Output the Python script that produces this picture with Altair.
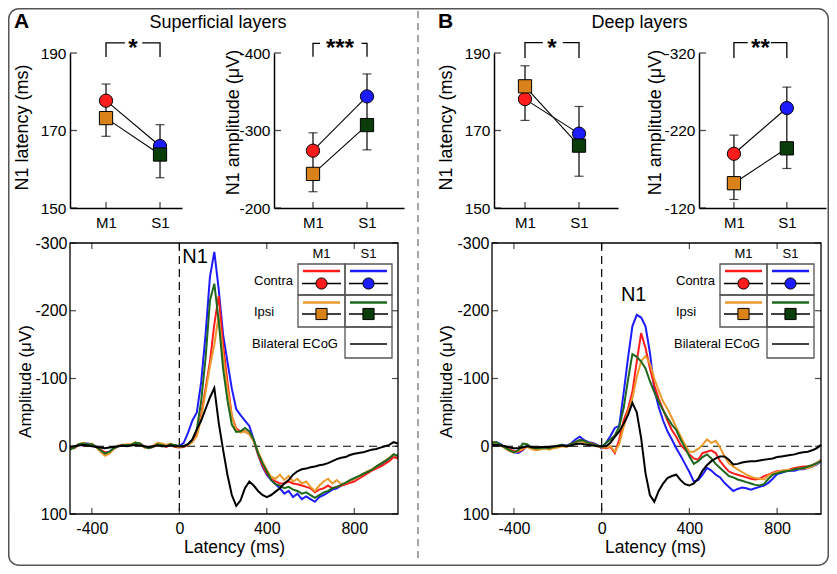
import altair as alt
import pandas as pd

FONT = "Liberation Sans"
VW, VH = 821, 558   # whole view (screen offset 8px)

# ---------------- data ----------------
XPOS = [1, 2]                      # M1, S1

A_LAT_CONTRA = [177.7, 166.0]
A_LAT_IPSI = [173.2, 163.8]
A_LAT_ERR_LO = [168.5, 157.8]
A_LAT_ERR_HI = [182.0, 171.5]

A_AMP_CONTRA = [-274, -344]
A_AMP_IPSI = [-244, -307]
A_AMP_ERR_LO = [-221, -275]
A_AMP_ERR_HI = [-297, -373]

B_LAT_CONTRA = [178.1, 169.2]
B_LAT_IPSI = [181.4, 166.1]
B_LAT_ERR_LO = [172.6, 158.2]
B_LAT_ERR_HI = [186.7, 176.2]

B_AMP_CONTRA = [-190, -249]
B_AMP_IPSI = [-152, -197]
B_AMP_ERR_LO = [-131, -171]
B_AMP_ERR_HI = [-214, -276]

LAT_TICKS = [150, 170, 190]
A_AMP_TICKS = [-400, -300, -200]
B_AMP_TICKS = [-320, -220, -120]
WAVE_X_TICKS = [-400, 0, 400, 800]
WAVE_Y_TICKS = [-300, -200, -100, 0, 100]

# significance brackets: (top, tick end) in data units
A_LAT_BRACKET = [192.6, 189.0]
A_AMP_BRACKET = [-412.5, -395.2]
B_LAT_BRACKET = [192.7, 188.7]
B_AMP_BRACKET = [-333.3, -313.5]

T = list(range(-500, 1001, 20))

A_S1_CONTRA = [3, 2, -3, -4, -4, -3, 0, 6, 10, 8, 3, 0, -2, -1, -2, -5, -3, 1, 3, 0, -4, -2, 0, -3, -1, 0,
               -5, -20, -38, -50, -95, -165, -250, -287, -232, -165,
               -125, -85, -55, -46, -38, -30, -10, 12, 30, 42,
               50, 56, 62, 70, 66, 75, 70, 78, 74, 78,
               82, 75, 72, 68, 64, 62, 58, 55, 51, 48,
               45, 41, 38, 35, 31, 28, 24, 18, 12, 16]
A_M1_CONTRA = [2, 3, -2, -4, -3, -2, 1, 5, 9, 9, 4, 0, -1, -2, -2, -4, -4, 0, 2, 1, -3, -3, 1, -2, 1, 2,
               1, -2, -8, -18, -47, -85, -125, -180, -222, -150,
               -95, -45, -26, -22, -22, -18, -8, 12, 28, 40,
               48, 52, 55, 55, 52, 55, 56, 58, 60, 62,
               68, 64, 62, 58, 62, 60, 58, 56, 54, 52,
               48, 44, 40, 36, 33, 30, 26, 22, 16, 18]
A_M1_IPSI = [4, 2, -3, -5, -3, -4, 2, 8, 14, 11, 4, -1, -2, -3, -3, -6, -2, 2, 3, -1, -5, -4, -2, -4, 0, 1,
             0, -2, -6, -15, -42, -80, -118, -150, -193, -135,
             -85, -45, -24, -20, -22, -18, -8, 8, 22, 35,
             45, 48, 42, 50, 44, 52, 48, 55, 52, 60,
             66, 58, 52, 48, 55, 50, 56, 54, 51, 48,
             45, 41, 37, 34, 30, 26, 22, 17, 12, 15]
A_S1_IPSI = [5, 2, -3, -4, -3, -3, 1, 6, 11, 8, 3, 0, -1, -2, -2, -5, -4, 1, 3, 1, -3, -2, 0, -3, -2, 0,
             0, -3, -10, -25, -67, -130, -215, -240, -185, -115,
             -68, -32, -21, -22, -27, -22, -10, 10, 25, 37,
             50, 56, 58, 62, 60, 64, 66, 70, 68, 72,
             76, 72, 68, 66, 62, 60, 57, 54, 50, 47,
             44, 41, 38, 35, 30, 26, 22, 18, 12, 14]
A_ECOG = [1, 0, -1, -2, -1, 0, 1, 2, 3, 2, 1, 0, -1, 0, -1, -2, -1, 0, 1, 0, -1, 0, 0, -1, 0, 0,
          0, -3, -10, -25, -38, -55, -72, -86, -35, 5,
          42, 72, 88, 80, 62, 52, 58, 66, 72, 75,
          72, 67, 62, 55, 50, 42, 37, 34, 33, 31,
          30, 28, 27, 25, 22, 19, 17, 16, 13, 11,
          10, 9, 7, 5, 4, 2, 0, -2, -6, -4]

B_S1_CONTRA = [-5, -6, -3, 2, 6, 9, 10, 6, -1, 3, 5, 4, 3, 4, 2, 0, -2, -1, -4, -10, -14, -9, -6, -5, -2, 3,
               -5, -15, -27, -30, -78, -130, -177, -194, -190, -177,
               -138, -84, -58, -38, -22, -10, 3, 14, 26, 38,
               52, 50, 42, 32, 36, 42, 46, 54, 60, 66,
               63, 61, 62, 64, 62, 60, 58, 54, 48, 41,
               39, 37, 36, 36, 34, 34, 32, 30, 27, 22]
B_M1_CONTRA = [-6, -5, -2, 1, 5, 7, 8, 5, 0, 2, 4, 4, 2, 3, 2, 1, -1, 0, -3, -6, -9, -7, -5, -4, -1, 2,
               3, 1, 10, -10, -38, -55, -80, -125, -167, -145,
               -115, -90, -70, -54, -38, -24, -14, -2, 5, 12,
               18, 20, 10, 8, 6, 10, 22, 30, 37, 40,
               42, 44, 46, 48, 49, 48, 44, 42, 39, 37,
               36, 36, 34, 32, 31, 30, 30, 28, 25, 20]
B_M1_IPSI = [-7, -4, -1, 3, 7, 9, 7, 4, 1, 4, 6, 5, 3, 5, 3, 2, 0, 1, -2, -5, -8, -6, -4, -3, 0, 2,
             2, 0, 8, -3, -28, -50, -71, -102, -126, -133,
             -122, -100, -82, -66, -55, -42, -28, -15, -2, 8,
             8, 4, -2, -10, -5, -8, 2, 15, 25, 30,
             34, 38, 42, 45, 47, 48, 49, 43, 40, 38,
             36, 35, 35, 34, 33, 33, 32, 30, 26, 20]
B_S1_IPSI = [-5, -6, -2, 2, 6, 9, 6, -4, -3, 2, 3, 3, 2, 3, 1, -1, -2, 0, -3, -6, -9, -8, -5, -3, -1, 1,
             -5, -10, -16, -29, -56, -98, -136, -132, -125, -115,
             -96, -80, -66, -53, -42, -32, -24, -10, 2, 15,
             26, 22, 16, 12, 18, 26, 32, 38, 44, 46,
             49, 51, 53, 55, 57, 58, 56, 48, 42, 40,
             38, 37, 36, 34, 33, 32, 30, 28, 25, 22]
B_ECOG = [-2, -2, -1, 0, 2, 3, 3, 2, 0, 1, 2, 1, 1, 1, 0, 0, -1, 0, -1, -3, -4, -3, -2, -1, 0, 0,
          0, -5, -14, -22, -33, -46, -64, -50, -12, 40,
          72, 82, 66, 55, 47, 44, 42, 50, 56, 58,
          55, 48, 36, 28, 22, 18, 15, 15, 20, 27,
          26, 24, 23, 22, 22, 21, 20, 19, 18, 16,
          15, 14, 13, 12, 10, 9, 8, 6, 3, -2]

RED = "#ff1c1c"
BLUE = "#1c1cff"
ORANGE_LINE = "#ec9a2c"
ORANGE_FILL = "#d9821a"
GREEN_LINE = "#1d681d"
GREEN_FILL = "#0b3d0b"

ONE = pd.DataFrame({"a": [0]})


def txt(text, x, y, size, weight="normal", align="center", baseline="alphabetic"):
    return alt.Chart(ONE).mark_text(text=text, font=FONT, fontSize=size, fontWeight=weight,
                                    align=align, baseline=baseline, color="black").encode(
        x=alt.value(x), y=alt.value(y))


def make_small(g, contra, ipsi, lo, hi, ydom, yrev, yticks, xdom, ytitle, tx, ty,
               bracket, gap, stars):
    x0, x1, y0, y1 = g
    xs = alt.Scale(domain=xdom, range=[x0, x1], nice=False, zero=False)
    ys = alt.Scale(domain=ydom, range=([y0, y1] if yrev else [y1, y0]), nice=False, zero=False)
    xax = alt.Axis(orient="bottom", offset=-(VH - y1), values=XPOS,
                   labelExpr="datum.value == 1 ? 'M1' : 'S1'", title=None,
                   domain=True, ticks=False, grid=False, labelPadding=7, labelFontSize=15)
    yax = alt.Axis(orient="left", offset=-x0, values=yticks, labelExpr="'' + datum.value",
                   title=ytitle, domain=True, ticks=False, grid=False, labelPadding=4,
                   labelFontSize=15.5, titleFontSize=18, titleX=tx, titleY=ty,
                   titleBaseline="middle", titleAngle=-90, titleAlign="center")

    def X(f="x"):
        return alt.X(f"{f}:Q", scale=xs, axis=xax)

    def Y(f="y"):
        return alt.Y(f"{f}:Q", scale=ys, axis=yax)

    err = pd.DataFrame({"x": XPOS, "y": lo, "y2": hi})
    err_rule = alt.Chart(err).mark_rule(color="black", strokeWidth=1.2).encode(x=X(), y=Y(), y2="y2:Q")
    caps = pd.DataFrame({"x": XPOS + XPOS, "y": lo + hi})
    cap_mark = alt.Chart(caps).mark_tick(orient="horizontal", size=9, thickness=1.2,
                                         color="black").encode(x=X(), y=Y())
    conn = pd.DataFrame({"x": XPOS * 2, "y": contra + ipsi, "g": ["c", "c", "i", "i"]})
    lines = alt.Chart(conn).mark_line(color="black", strokeWidth=1.1).encode(x=X(), y=Y(), detail="g:N")
    circ = pd.DataFrame({"x": XPOS, "y": contra, "c": [RED, BLUE]})
    circles = alt.Chart(circ).mark_point(shape="circle", filled=True, size=175, stroke="black",
                                         strokeWidth=1, opacity=1).encode(
        x=X(), y=Y(), fill=alt.Fill("c:N", scale=None))
    sq = pd.DataFrame({"x": XPOS, "y": ipsi, "c": [ORANGE_FILL, GREEN_FILL]})
    squares = alt.Chart(sq).mark_point(shape="square", filled=True, size=175, stroke="black",
                                       strokeWidth=1, opacity=1).encode(
        x=X(), y=Y(), fill=alt.Fill("c:N", scale=None))
    ytk = alt.Chart(pd.DataFrame({"y": yticks})).mark_tick(
        orient="horizontal", size=7, thickness=1.3, color="black").encode(y=Y(), x=alt.value(x0 + 3.5))
    xtk = alt.Chart(pd.DataFrame({"x": XPOS})).mark_tick(
        orient="vertical", size=6, thickness=1.3, color="black").encode(x=X(), y=alt.value(y1 - 3))
    br = pd.DataFrame({"x": [1, 1, gap[0], gap[1], 2, 2],
                       "y": [bracket[1], bracket[0], bracket[0], bracket[0], bracket[0], bracket[1]],
                       "seg": [0, 0, 0, 1, 1, 1], "o": [0, 1, 2, 0, 1, 2]})
    brk = alt.Chart(br).mark_line(color="black", strokeWidth=1.3).encode(
        x=X(), y=Y(), detail="seg:N", order="o:Q")
    st = pd.DataFrame({"x": [1.5], "y": [bracket[0]], "t": [stars]})
    star = alt.Chart(st).mark_text(font=FONT, fontSize=24, fontWeight="bold", baseline="middle",
                                   dy=6, color="black").encode(x=X(), y=Y(), text="t:N")
    return alt.layer(err_rule, cap_mark, lines, circles, squares, ytk, xtk, brk, star)


def make_wave(g, series, n1, ytx, xtx):
    x0, x1, y0, y1 = g
    xs = alt.Scale(domain=[-500, 1000], range=[x0, x1], nice=False, zero=False)
    ys = alt.Scale(domain=[-300, 100], range=[y0, y1], nice=False, zero=False)
    xax = alt.Axis(orient="bottom", offset=-(VH - y1), values=WAVE_X_TICKS,
                   labelExpr="'' + datum.value", title="Latency (ms)",
                   domain=False, ticks=False, grid=False, labelPadding=6, labelFontSize=16,
                   titleFontSize=17.5, titleX=xtx, titleY=33, titleBaseline="middle", titleAlign="center")
    yax = alt.Axis(orient="left", offset=-x0, values=WAVE_Y_TICKS, labelExpr="'' + datum.value",
                   title="Amplitude (μV)", domain=False, ticks=False, grid=False, labelPadding=3,
                   labelFontSize=16, titleFontSize=17, titleX=ytx, titleY=373,
                   titleBaseline="middle", titleAngle=-90, titleAlign="center")

    def X(f="x"):
        return alt.X(f"{f}:Q", scale=xs, axis=xax)

    def Y(f="y"):
        return alt.Y(f"{f}:Q", scale=ys, axis=yax)

    layers = []
    layers.append(alt.Chart(pd.DataFrame({"y": [0]})).mark_rule(
        color="black", strokeDash=[8, 5], strokeWidth=1.2).encode(
        y=Y(), x=alt.value(x0), x2=alt.value(x1)))
    layers.append(alt.Chart(pd.DataFrame({"x": [0]})).mark_rule(
        color="black", strokeDash=[8, 5], strokeWidth=1.2).encode(
        x=X(), y=alt.value(y0), y2=alt.value(y1)))
    for vals, col in series:
        df = pd.DataFrame({"x": T, "y": vals})
        layers.append(alt.Chart(df).mark_line(color=col, strokeWidth=2).encode(x=X(), y=Y()))
    layers.append(alt.Chart(ONE).mark_rect(filled=False, color="black", strokeWidth=1.3).encode(
        x=alt.value(x0), x2=alt.value(x1), y=alt.value(y0), y2=alt.value(y1)))
    xt = pd.DataFrame({"x": WAVE_X_TICKS})
    yt = pd.DataFrame({"y": WAVE_Y_TICKS})
    layers.append(alt.Chart(xt).mark_tick(orient="vertical", size=6, thickness=1.2, color="black")
                  .encode(x=X(), y=alt.value(y1 - 3)))
    layers.append(alt.Chart(xt).mark_tick(orient="vertical", size=6, thickness=1.2, color="black")
                  .encode(x=X(), y=alt.value(y0 + 3)))
    layers.append(alt.Chart(yt).mark_tick(orient="horizontal", size=6, thickness=1.2, color="black")
                  .encode(y=Y(), x=alt.value(x0 + 3)))
    layers.append(alt.Chart(yt).mark_tick(orient="horizontal", size=6, thickness=1.2, color="black")
                  .encode(y=Y(), x=alt.value(x1 - 3)))
    n1df = pd.DataFrame({"x": [n1[0]], "y": [n1[1]], "t": ["N1"]})
    layers.append(alt.Chart(n1df).mark_text(font=FONT, fontSize=20, color="black", align="center",
                                            baseline="alphabetic").encode(x=X(), y=Y(), text="t:N"))

    # legend table (pixel layout relative to the plot's top-left corner)
    def LX(f):
        return alt.X(f"{f}:Q", scale=None, axis=None)

    def LY(f):
        return alt.Y(f"{f}:Q", scale=None, axis=None)

    cells = pd.DataFrame({"lx": [228, 275, 228, 275, 275], "lx2": [275, 322, 275, 322, 322],
                          "ly": [21, 21, 52, 52, 84], "ly2": [52, 52, 84, 84, 115]})
    cells[["lx", "lx2"]] += x0
    cells[["ly", "ly2"]] += y0
    layers.append(alt.Chart(cells).mark_rect(filled=False, color="#555555", strokeWidth=1.3).encode(
        x=LX("lx"), x2="lx2:Q", y=LY("ly"), y2="ly2:Q"))
    clines = pd.DataFrame({"lx": [233, 280, 233, 280], "lx2": [270, 317, 270, 317],
                           "ly": [28, 28, 59.5, 59.5],
                           "c": [RED, BLUE, ORANGE_LINE, GREEN_LINE]})
    clines[["lx", "lx2"]] += x0
    clines["ly"] += y0
    layers.append(alt.Chart(clines).mark_rule(strokeWidth=2.6).encode(
        x=LX("lx"), x2="lx2:Q", y=LY("ly"), color=alt.Color("c:N", scale=None)))
    blines = pd.DataFrame({"lx": [232, 279, 232, 279, 280], "lx2": [271, 318, 271, 318, 317],
                           "ly": [40.5, 40.5, 71, 71, 101]})
    blines[["lx", "lx2"]] += x0
    blines["ly"] += y0
    layers.append(alt.Chart(blines).mark_rule(color="black", strokeWidth=1.5).encode(
        x=LX("lx"), x2="lx2:Q", y=LY("ly")))
    lcirc = pd.DataFrame({"lx": [251.5 + x0, 298.5 + x0], "ly": [40.5 + y0, 40.5 + y0], "c": [RED, BLUE]})
    layers.append(alt.Chart(lcirc).mark_point(shape="circle", filled=True, size=125, stroke="black",
                                              strokeWidth=1, opacity=1).encode(
        x=LX("lx"), y=LY("ly"), fill=alt.Fill("c:N", scale=None)))
    lsq = pd.DataFrame({"lx": [251.5 + x0, 298.5 + x0], "ly": [71 + y0, 71 + y0],
                        "c": [ORANGE_FILL, GREEN_FILL]})
    layers.append(alt.Chart(lsq).mark_point(shape="square", filled=True, size=125, stroke="black",
                                            strokeWidth=1, opacity=1).encode(
        x=LX("lx"), y=LY("ly"), fill=alt.Fill("c:N", scale=None)))
    layers.append(txt("M1", x0 + 251.5, y0 + 15, 13))
    layers.append(txt("S1", x0 + 298.5, y0 + 15, 13))
    layers.append(txt("Contra", x0 + 184, y0 + 38, 13, align="left", baseline="middle"))
    layers.append(txt("Ipsi", x0 + 184, y0 + 69, 13, align="left", baseline="middle"))
    layers.append(txt("Bilateral ECoG", x0 + 182, y0 + 101, 13, align="left", baseline="middle"))
    return alt.layer(*layers)


# geometry (view pixels): x0, x1, y_top, y_bottom
G_A1 = (62, 174, 45, 200)
G_A2 = (266, 396, 45, 200)
G_B1 = (486, 610, 45, 200)
G_B2 = (691, 818, 45, 200)
G_A3 = (62, 390, 235, 506)
G_B3 = (484, 813, 235, 506)

A1 = make_small(G_A1, A_LAT_CONTRA, A_LAT_IPSI, A_LAT_ERR_LO, A_LAT_ERR_HI, [150, 190], False, LAT_TICKS,
                [0.333, 2.407], "N1 latency (ms)", -48, 119, A_LAT_BRACKET, [1.35, 1.67], "*")
A2 = make_small(G_A2, A_AMP_CONTRA, A_AMP_IPSI, A_AMP_ERR_LO, A_AMP_ERR_HI, [-400, -200], True, A_AMP_TICKS,
                [0.278, 2.685], "N1 amplitude (μV)", -41, 114, A_AMP_BRACKET, [1.13, 1.9], "***")
B1 = make_small(G_B1, B_LAT_CONTRA, B_LAT_IPSI, B_LAT_ERR_LO, B_LAT_ERR_HI, [150, 190], False, LAT_TICKS,
                [0.426, 2.722], "N1 latency (ms)", -48, 119, B_LAT_BRACKET, [1.33, 1.70], "*")
B2 = make_small(G_B2, B_AMP_CONTRA, B_AMP_IPSI, B_AMP_ERR_LO, B_AMP_ERR_HI, [-320, -120], True, B_AMP_TICKS,
                [0.34, 2.74], "N1 amplitude (μV)", -44, 114, B_AMP_BRACKET, [1.26, 1.70], "**")

A3 = make_wave(G_A3, [(A_S1_CONTRA, BLUE), (A_M1_CONTRA, RED), (A_M1_IPSI, ORANGE_LINE),
                      (A_S1_IPSI, GREEN_LINE), (A_ECOG, "black")], (71.5, -270.6), -45, 226)
B3 = make_wave(G_B3, [(B_S1_CONTRA, BLUE), (B_M1_CONTRA, RED), (B_M1_IPSI, ORANGE_LINE),
                      (B_S1_IPSI, GREEN_LINE), (B_ECOG, "black")], (146, -213.7), -45.5, 647)

deco = alt.layer(
    alt.Chart(ONE).mark_rect(filled=False, color="#555555", strokeWidth=1.5, cornerRadius=10).encode(
        x=alt.value(0.75), x2=alt.value(VW - 0.75), y=alt.value(0.75), y2=alt.value(VH - 0.75)),
    alt.Chart(ONE).mark_rule(color="#888888", strokeWidth=1.5, strokeDash=[7, 5]).encode(
        x=alt.value(410), y=alt.value(3), y2=alt.value(VH - 3)),
    txt("A", 6, 20, 21, weight="bold", align="left"),
    txt("B", 430, 20, 21, weight="bold", align="left"),
    txt("Superficial layers", 210, 20, 18),
    txt("Deep layers", 631.5, 20, 18),
)

chart = alt.layer(A1, A2, B1, B2, A3, B3, deco).resolve_scale(
    x="independent", y="independent"
).properties(
    width=VW, height=VH, padding=0, background="white",
    autosize=alt.AutoSizeParams(type="none")
).configure_view(stroke=None).configure_axis(
    labelFont=FONT, titleFont=FONT, labelColor="black", titleColor="black",
    titleFontWeight="normal", domainColor="black", domainWidth=1.5
).configure_text(font=FONT)

chart.save("out.html", embed_options={"renderer": "svg", "actions": False})
